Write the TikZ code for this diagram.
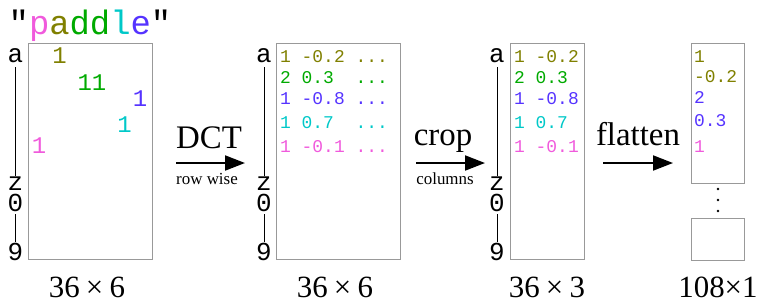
\documentclass[tikz,border=0pt]{standalone}
\usepackage{fontspec}
\setmainfont{Liberation Serif}
\setmonofont{Liberation Mono}
\usetikzlibrary{arrows.meta}
\definecolor{cmag}{RGB}{240,90,220}
\definecolor{colive}{RGB}{128,128,0}
\definecolor{cgreen}{RGB}{0,170,0}
\definecolor{ccyan}{RGB}{0,200,200}
\definecolor{cblue}{RGB}{85,51,255}
\definecolor{cframe}{RGB}{153,153,153}
\begin{document}
\begin{tikzpicture}[x=1bp,y=-1bp,
  mat/.style={draw=cframe, line width=1.2bp, inner sep=0, anchor=north west},
  axlbl/.style={font=\ttfamily\fontsize{26}{26}\selectfont, inner sep=0, anchor=base},
  cell/.style={font=\ttfamily\fontsize{24}{24}\selectfont, inner sep=0, anchor=base},
  rowtxt/.style={font=\ttfamily\fontsize{18}{18}\selectfont, inner sep=0, anchor=base west},
  dimtxt/.style={font=\fontsize{31}{31}\selectfont, inner sep=0, anchor=base},
  optxt/.style={font=\fontsize{33}{33}\selectfont, inner sep=0, anchor=base},
  subtxt/.style={font=\fontsize{17}{17}\selectfont, inner sep=0, anchor=base},
  flow/.style={-{Triangle[length=20bp,width=15bp]}, line width=2bp},
  axisline/.style={line width=1bp},
  dotmark/.style={circle, fill=black, inner sep=0, minimum size=2.6bp}]
\useasboundingbox (0,0) rectangle (769,307);

% title
\node[font=\ttfamily\fontsize{34}{34}\selectfont, inner sep=0, anchor=base] (title) at (90,34)
  {"\textcolor{cmag}{p}\textcolor{colive}{a}\textcolor{cgreen}{dd}\textcolor{ccyan}{l}\textcolor{cblue}{e}"};

% ---------- matrix 1 ----------
\node[mat, minimum width=124bp, minimum height=216bp] (m1) at (28,43) {};
\node[axlbl] (a1) at (15.5,62) {a};
\node[axlbl] (z1) at (15.5,190) {z};
\node[axlbl] (o1) at (15.5,211) {0};
\node[axlbl] (n1) at (15.5,260) {9};
\draw[axisline] ([yshift=-5bp]a1.south) -- (z1.north);
\draw[axisline] ([yshift=-3bp]o1.south) -- (n1.north);
\node[cell, text=colive] (c1) at (59.5,63) {1};
\node[cell, text=cgreen] (c2) at (92,90) {11};
\node[cell, text=cblue] (c3) at (140,106) {1};
\node[cell, text=ccyan] (c4) at (124.5,132) {1};
\node[cell, text=cmag] (c5) at (39,153) {1};
\node[dimtxt] (dim1) at (87,297) {36\hspace{0.2em}×\hspace{0.2em}6};

% ---------- arrow DCT ----------
\coordinate (d0) at (176,163);
\coordinate (d1) at (245,163);
\draw[flow] (d0) -- (d1);
\node[optxt] (dct) at (209,148) {DCT};
\node[subtxt] (dcts) at (207,184) {row wise};

% ---------- matrix 2 ----------
\node[mat, minimum width=124bp, minimum height=216bp] (m2) at (276,43) {};
\node[axlbl] (a2) at (264,62) {a};
\node[axlbl] (z2) at (264,190) {z};
\node[axlbl] (o2) at (264,211) {0};
\node[axlbl] (n2) at (264,260) {9};
\draw[axisline] ([yshift=-5bp]a2.south) -- (z2.north);
\draw[axisline] ([yshift=-3bp]o2.south) -- (n2.north);
\node[rowtxt, text=colive] (r21) at (280,62) {1 -0.2 ...};
\node[rowtxt, text=cgreen] (r22) at (280,83) {2 0.3~~...};
\node[rowtxt, text=cblue] (r23) at (280,104) {1 -0.8 ...};
\node[rowtxt, text=ccyan] (r24) at (280,128) {1 0.7~~...};
\node[rowtxt, text=cmag] (r25) at (280,152) {1 -0.1 ...};
\node[dimtxt] (dim2) at (335,297) {36\hspace{0.2em}×\hspace{0.2em}6};

% ---------- arrow crop ----------
\coordinate (k0) at (416,163);
\coordinate (k1) at (485,163);
\draw[flow] (k0) -- (k1);
\node[optxt] (crop) at (443,145) {crop};
\node[subtxt] (crops) at (445,184) {columns};

% ---------- matrix 3 ----------
\node[mat, minimum width=74bp, minimum height=216bp] (m3) at (510,43) {};
\node[axlbl] (a3) at (497,62) {a};
\node[axlbl] (z3) at (497,190) {z};
\node[axlbl] (o3) at (497,211) {0};
\node[axlbl] (n3) at (497,260) {9};
\draw[axisline] ([yshift=-5bp]a3.south) -- (z3.north);
\draw[axisline] ([yshift=-3bp]o3.south) -- (n3.north);
\node[rowtxt, text=colive] (r31) at (514,62) {1 -0.2};
\node[rowtxt, text=cgreen] (r32) at (514,83) {2 0.3};
\node[rowtxt, text=cblue] (r33) at (514,104) {1 -0.8};
\node[rowtxt, text=ccyan] (r34) at (514,128) {1 0.7};
\node[rowtxt, text=cmag] (r35) at (514,152) {1 -0.1};
\node[dimtxt] (dim3) at (547,297) {36\hspace{0.2em}×\hspace{0.2em}3};

% ---------- arrow flatten ----------
\coordinate (f0) at (603,163);
\coordinate (f1) at (673,163);
\draw[flow] (f0) -- (f1);
\node[optxt] (flat) at (638,145) {flatten};

% ---------- vector ----------
\node[mat, minimum width=53bp, minimum height=140bp] (v1) at (691,43) {};
\node[mat, minimum width=53bp, minimum height=42bp] (v2) at (691,218) {};
\node[rowtxt, text=colive] (r41) at (694,62) {1};
\node[rowtxt, text=colive] (r42) at (694,82) {-0.2};
\node[rowtxt, text=cblue] (r43) at (694,103) {2};
\node[rowtxt, text=cblue] (r44) at (694,126) {0.3};
\node[rowtxt, text=cmag] (r45) at (694,152) {1};
\node[dotmark] (dt1) at (718,189) {};
\node[dotmark] (dt2) at (718,200) {};
\node[dotmark] (dt3) at (718,211) {};
\node[dimtxt] (dim4) at (718,297) {108×1};
\end{tikzpicture}
\end{document}
